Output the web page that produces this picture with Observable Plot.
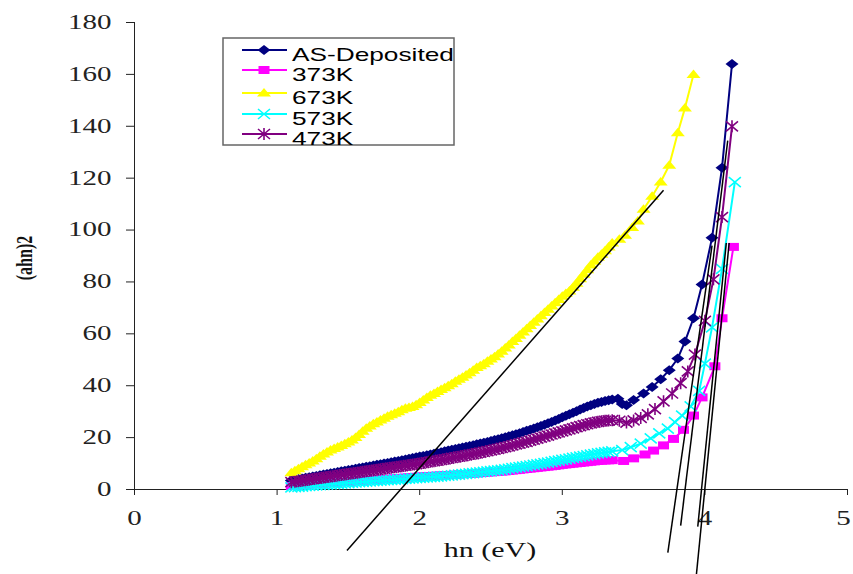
<!DOCTYPE html>
<html><head><meta charset="utf-8">
<script src="https://cdn.jsdelivr.net/npm/d3@7"></script>
<script src="https://cdn.jsdelivr.net/npm/@observablehq/plot@0.6"></script>
<style>body{margin:0;background:#fff}#chart{width:853px;height:574px}</style>
</head><body><div id="chart"></div>
<script>
// ---- data ----
const xTicks = [0, 1, 2, 3, 4, 5];
const yTicks = [0, 20, 40, 60, 80, 100, 120, 140, 160, 180];
const seriesNames = ["AS-Deposited", "373K", "673K", "573K", "473K"];
const seriesColors = ["#000080", "#FF00FF", "#FFFF00", "#00FFFF", "#800080"];

const hvDense = [
  1.100,1.125,1.150,1.175,1.200,1.225,1.250,1.275,1.300,1.325,
  1.350,1.375,1.400,1.425,1.450,1.475,1.500,1.525,1.550,1.575,
  1.600,1.625,1.650,1.675,1.700,1.725,1.750,1.775,1.800,1.825,
  1.850,1.875,1.900,1.925,1.950,1.975,2.000,2.025,2.050,2.075,
  2.100,2.125,2.150,2.175,2.200,2.225,2.250,2.275,2.300,2.325,
  2.350,2.375,2.400,2.425,2.450,2.475,2.500,2.525,2.550,2.575,
  2.600,2.625,2.650,2.675,2.700,2.725,2.750,2.775,2.800,2.825,
  2.850,2.875,2.900,2.925,2.950,2.975,3.000,3.025,3.050,3.075,
  3.100,3.125,3.150,3.175,3.200,3.225,3.250,3.275,3.300,3.325,
  3.350];

const asDense = [
  3.5,3.75,4.0,4.25,4.5,4.75,5.0,5.25,5.5,5.75,
  6.0,6.25,6.5,6.75,7.0,7.25,7.5,7.75,8.0,8.25,
  8.5,8.75,9.0,9.25,9.5,9.75,10.0,10.25,10.5,10.75,
  11.0,11.3,11.6,11.85,12.1,12.4,12.7,12.95,13.2,13.5,
  13.8,14.1,14.4,14.7,15.0,15.3,15.6,15.9,16.2,16.5,
  16.8,17.1,17.4,17.7,18.0,18.35,18.7,19.05,19.4,19.75,
  20.1,20.5,20.9,21.3,21.7,22.15,22.6,23.05,23.5,24.0,
  24.5,25.0,25.5,26.05,26.6,27.2,27.8,28.4,29.0,29.6,
  30.2,30.8,31.4,31.95,32.5,32.95,33.4,33.75,34.1,34.4,
  34.7];
const asTailHv = [3.39,3.42,3.45,3.50,3.57,3.63,3.69,3.75,3.81,3.86,3.92,3.98,4.05,4.12,4.19];
const asTailY  = [35.0,33.0,32.5,34.5,37.0,39.5,42.5,46.0,50.5,57.0,66.0,79.0,97.0,124.0,164.0];

const k373Dense = [
  1.3,1.4,1.5,1.65,1.8,1.9,2.0,2.1,2.2,2.3,
  2.4,2.5,2.6,2.7,2.8,2.9,3.0,3.1,3.2,3.3,
  3.4,3.5,3.6,3.7,3.8,3.9,4.0,4.1,4.2,4.3,
  4.4,4.5,4.6,4.7,4.8,4.9,5.0,5.05,5.1,5.2,
  5.3,5.35,5.4,5.5,5.6,5.65,5.7,5.8,5.9,5.95,
  6.0,6.1,6.2,6.3,6.4,6.5,6.6,6.7,6.8,6.9,
  7.0,7.15,7.3,7.45,7.6,7.75,7.9,8.05,8.2,8.35,
  8.5,8.65,8.8,8.95,9.1,9.3,9.5,9.65,9.8,9.95,
  10.1,10.25,10.4,10.55,10.7,10.85,11.0,11.1,11.2,11.25,
  11.3];
const k373TailHv = [3.43,3.50,3.58,3.64,3.71,3.78,3.85,3.92,3.98,4.07,4.12,4.20];
const k373TailY  = [11.0,12.0,13.5,15.0,17.0,19.5,23.0,28.5,35.5,47.5,66.0,93.5];

const k673Dense = [
  6.5,7.2,8.0,8.8,9.5,10.2,11.0,11.9,12.8,13.7,
  14.5,15.2,15.8,16.4,17.0,17.6,18.3,19.1,20.0,21.2,
  22.5,23.6,24.5,25.3,26.0,26.8,27.5,28.2,28.8,29.4,
  30.0,30.7,31.3,31.6,32.0,32.7,33.5,34.5,35.5,36.3,
  37.0,37.8,38.5,39.2,40.0,40.8,41.7,42.5,43.3,44.1,
  45.0,46.0,47.0,47.7,48.5,49.4,50.3,51.2,52.2,53.3,
  54.5,55.7,57.0,58.2,59.5,60.7,62.0,63.2,64.5,65.7,
  67.0,68.2,69.5,70.7,72.0,73.2,74.5,75.5,76.5,78.0,
  79.5,81.2,83.0,84.7,86.5,88.0,89.5,90.7,92.0,93.5,
  95.0];
const k673TailHv = [3.40,3.44,3.49,3.53,3.57,3.63,3.69,3.75,3.81,3.86,3.92];
const k673TailY  = [96.5,98.0,101.0,103.5,108.0,113.0,118.5,125.0,137.5,147.0,160.0];

const k573Dense = [
  0.8,0.9,1.0,1.15,1.3,1.4,1.5,1.6,1.7,1.8,
  1.9,2.0,2.1,2.2,2.3,2.4,2.5,2.6,2.7,2.8,
  2.9,3.0,3.1,3.2,3.3,3.4,3.5,3.6,3.7,3.8,
  3.9,4.0,4.1,4.2,4.3,4.4,4.5,4.6,4.7,4.8,
  4.9,5.0,5.1,5.2,5.3,5.45,5.6,5.75,5.9,6.05,
  6.2,6.35,6.5,6.65,6.8,6.95,7.1,7.25,7.4,7.6,
  7.8,8.0,8.2,8.4,8.6,8.8,9.0,9.25,9.5,9.7,
  9.9,10.15,10.4,10.65,10.9,11.15,11.4,11.65,11.9,12.15,
  12.4,12.65,12.9,13.15,13.4,13.65,13.9,14.1,14.3,14.5,
  14.7];
const k573TailHv = [3.42,3.48,3.55,3.62,3.68,3.74,3.79,3.84,3.90,3.96,4.00,4.05,4.12,4.21];
const k573TailY  = [15.2,16.3,17.7,19.7,21.6,23.5,26.0,28.5,32.0,38.0,48.5,62.5,85.0,118.5];

const k473Dense = [
  2.8,3.0,3.2,3.4,3.6,3.8,4.0,4.2,4.4,4.6,
  4.8,5.0,5.2,5.4,5.6,5.8,6.0,6.2,6.4,6.6,
  6.8,7.0,7.2,7.4,7.6,7.8,8.0,8.2,8.4,8.6,
  8.8,9.0,9.2,9.4,9.6,9.8,10.0,10.25,10.5,10.7,
  10.9,11.15,11.4,11.65,11.9,12.15,12.4,12.65,12.9,13.15,
  13.4,13.65,13.9,14.2,14.5,14.8,15.1,15.4,15.7,16.0,
  16.3,16.65,17.0,17.35,17.7,18.05,18.4,18.8,19.2,19.6,
  20.0,20.4,20.8,21.2,21.6,22.0,22.4,22.8,23.2,23.6,
  24.0,24.4,24.8,25.15,25.5,25.8,26.1,26.3,26.5,26.6,
  26.7];
const k473TailHv = [3.40,3.45,3.50,3.55,3.60,3.65,3.71,3.77,3.83,3.88,3.93,4.00,4.06,4.12,4.19];
const k473TailY  = [26.5,25.8,26.6,27.6,29.0,31.0,34.0,37.0,41.0,45.5,52.0,65.0,81.0,105.0,140.0];

// tangent lines (data units)
const tanX1 = [1.49, 3.74, 3.83, 3.95, 3.94];
const tanY1 = [-23.5, -24.3, -13.9, -14.3, -33.0];
const tanX2 = [3.71, 4.05, 4.16, 4.15, 4.17];
const tanY2 = [115.3, 94.0, 134.5, 95.0, 95.0];

// ---- marker shapes (wide, like the stretched original) ----
const diamondW = {draw(c){c.moveTo(0,-5);c.lineTo(6.5,0);c.lineTo(0,5);c.lineTo(-6.5,0);c.closePath();}};
const squareW = {draw(c){c.moveTo(-5.5,-4);c.lineTo(5.5,-4);c.lineTo(5.5,4);c.lineTo(-5.5,4);c.closePath();}};
const triangleW = {draw(c){c.moveTo(0,-5);c.lineTo(7,3.5);c.lineTo(-7,3.5);c.closePath();}};
const timesW = {draw(c){c.moveTo(-6,-5);c.lineTo(6,5);c.moveTo(-6,5);c.lineTo(6,-5);}};
const starW = {draw(c){c.moveTo(-6,-5);c.lineTo(6,5);c.moveTo(-6,5);c.lineTo(6,-5);c.moveTo(0,-6);c.lineTo(0,6);}};

const series = [
  {hv: hvDense.concat(asTailHv),   y: asDense.concat(asTailY),     sym: diamondW,  filled: true},
  {hv: hvDense.concat(k373TailHv), y: k373Dense.concat(k373TailY), sym: squareW,   filled: true},
  {hv: hvDense.concat(k673TailHv), y: k673Dense.concat(k673TailY), sym: triangleW, filled: true},
  {hv: hvDense.concat(k573TailHv), y: k573Dense.concat(k573TailY), sym: timesW,    filled: false},
  {hv: hvDense.concat(k473TailHv), y: k473Dense.concat(k473TailY), sym: starW,     filled: false}
].map((s, i) => ({...s, name: seriesNames[i], color: seriesColors[i],
  rows: s.hv.map((h, j) => ({hv: h, v: s.y[j]})).filter(d => d.v != null)}));

const tangents = tanX1.map((x, i) => ({x1: x, y1: tanY1[i], x2: tanX2[i], y2: tanY2[i]}));

const marks = [];
for (const s of series) {
  marks.push(Plot.line(s.rows, {x: "hv", y: "v", stroke: s.color, strokeWidth: 2}));
  marks.push(Plot.dot(s.rows, s.filled
    ? {x: "hv", y: "v", symbol: s.sym, r: 4, fill: s.color, stroke: "none"}
    : {x: "hv", y: "v", symbol: s.sym, r: 4, fill: "none", stroke: s.color, strokeWidth: 1.6}));
}
marks.push(Plot.link(tangents, {x1: "x1", y1: "y1", x2: "x2", y2: "y2", stroke: "black", strokeWidth: 1.5}));

const svg = Plot.plot({
  width: 853, height: 574,
  marginLeft: 134, marginRight: 6, marginTop: 22, marginBottom: 85,
  style: {fontFamily: "'Liberation Serif', 'Times New Roman', serif", fontSize: "20px", color: "#222", background: "white", overflow: "visible"},
  x: {domain: [0, 5], ticks: xTicks, tickFormat: d3.format("d"), tickSize: 6, tickPadding: 15, label: null, line: true},
  y: {domain: [0, 180], ticks: yTicks, tickFormat: d3.format("d"), tickSize: 8, tickPadding: 15, label: null, line: true},
  marks
});

// stretch tick labels horizontally like the original
d3.select(svg).selectAll("text").each(function () {
  const x = parseFloat(this.getAttribute("x")) || 0;
  const t = this.getAttribute("transform") || "";
  const nudge = this.textContent === "5" ? " translate(-4,0)" : "";
  this.setAttribute("transform", `${t}${nudge} translate(${x},0) scale(1.45,1) translate(${-x},0)`);
});

const root = d3.select(svg);
// axis titles
root.append("text").attr("transform", "translate(490,557) scale(1.5,1)")
  .attr("text-anchor", "middle").attr("font-family", "'Liberation Serif', serif")
  .attr("font-size", 20).attr("fill", "#111").text("hn (eV)");
root.append("text").attr("transform", "translate(24,258) rotate(-90) scale(1,1.4)")
  .attr("text-anchor", "middle").attr("dy", "0.35em").attr("font-family", "'Liberation Serif', serif")
  .attr("font-weight", "bold").attr("font-size", 16).attr("fill", "#111").text("(ahn)2");

// legend
const lg = root.append("g");
lg.append("rect").attr("x", 223).attr("y", 38).attr("width", 231).attr("height", 107)
  .attr("fill", "white").attr("stroke", "#666").attr("stroke-width", 1.5);
const rowY = [50, 70, 93, 114, 134];
series.forEach((s, i) => {
  const y = rowY[i];
  lg.append("line").attr("x1", 242).attr("x2", 287).attr("y1", y).attr("y2", y)
    .attr("stroke", s.color).attr("stroke-width", 2);
  const p = d3.path(); s.sym.draw(p);
  lg.append("path").attr("transform", `translate(264,${y})`).attr("d", p.toString())
    .attr("fill", s.filled ? s.color : "none").attr("stroke", s.filled ? "none" : s.color).attr("stroke-width", 1.6);
  lg.append("text").attr("transform", `translate(292,${y + 11}) scale(1.5,1)`)
    .attr("text-anchor", "start")
    .attr("font-family", "'Liberation Sans', Arial, sans-serif").attr("font-size", 17.5)
    .attr("fill", "#000").text(s.name);
});

document.getElementById("chart").appendChild(svg);
</script>
</body></html>
